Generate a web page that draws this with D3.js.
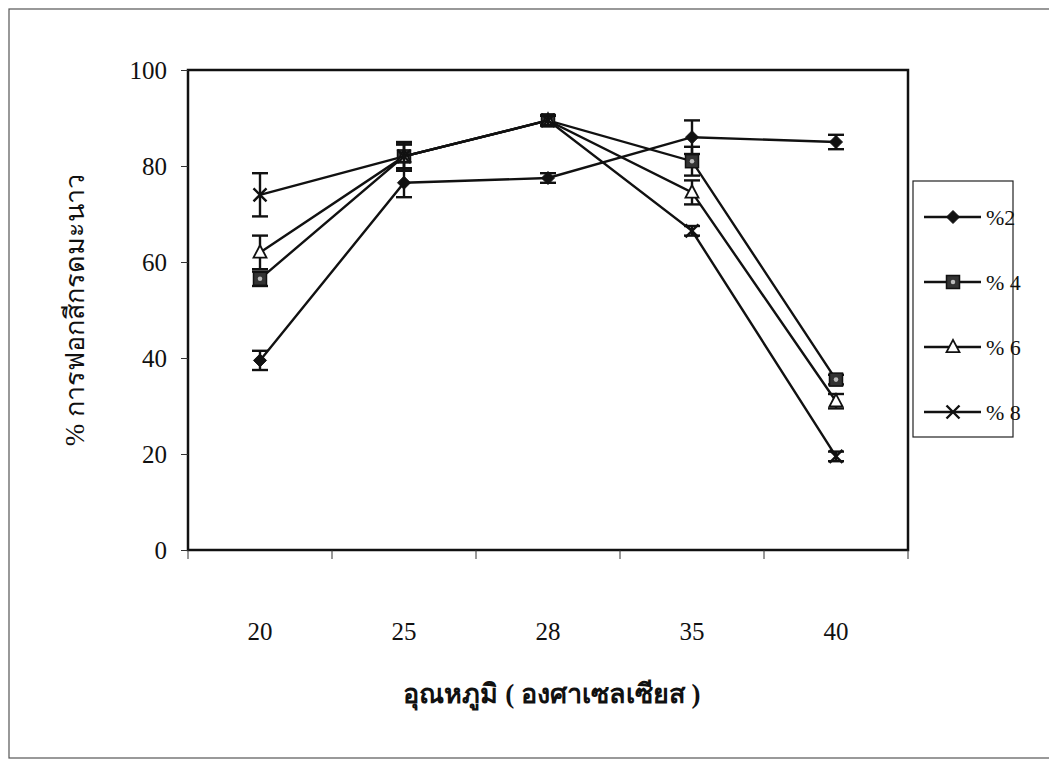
<!DOCTYPE html>
<html lang="th">
<head>
<meta charset="UTF-8">
<title>% การฟอกสีกรดมะนาว</title>
<style>
  body { margin: 0; background: #fff; }
  text { font-family: "Liberation Serif", "Times New Roman", serif; fill: #111; }
</style>
</head>
<body>
<div id="chart"></div>
<script src="https://d3js.org/d3.v7.min.js"></script>
<script>
const categories = ["20", "25", "28", "35", "40"];
const seriesNames = ["%2", "% 4", "% 6", "% 8"];
const markers = ["diamond", "square", "triangle", "cross"];
const values = [
  [39.5, 76.5, 77.5, 86, 85],
  [56.5, 82, 89.5, 81, 35.5],
  [62, 82, 89.5, 74.5, 31],
  [74, 82, 89.5, 66.5, 19.5]
];
const errors = [
  [2, 3, 1, 3.5, 1.5],
  [1.5, 3, 1, 3, 1],
  [3.5, 2.5, 1, 2.5, 1.5],
  [4.5, 2.5, 1, 1, 1]
];
const yTicks = [0, 20, 40, 60, 80, 100];

const W = 1049, H = 769;
const margin = { top: 70, left: 188, right: 141, bottom: 219 };
const width = W - margin.left - margin.right,
      height = H - margin.top - margin.bottom;

const svg = d3.select("#chart").append("svg")
    .attr("width", W)
    .attr("height", H);

// scanned page frame
svg.append("rect")
    .attr("x", 9).attr("y", 9)
    .attr("width", W).attr("height", 749)
    .attr("fill", "none")
    .attr("stroke", "#555")
    .attr("stroke-width", 1.2);

const g = svg.append("g")
    .attr("transform", `translate(${margin.left},${margin.top})`);

const x = d3.scaleBand().domain(categories).range([0, width]);
const y = d3.scaleLinear().domain([0, 100]).range([height, 0]);

// plot border
g.append("rect")
    .attr("width", width).attr("height", height)
    .attr("fill", "none")
    .attr("stroke", "#111")
    .attr("stroke-width", 2.5);

// axes
const xAxis = g.append("g")
    .attr("transform", `translate(0,${height})`)
    .call(d3.axisBottom(x).tickSize(0).tickFormat(d => d));
xAxis.select(".domain").remove();
xAxis.selectAll("text")
    .attr("dy", 0)
    .attr("y", 90)
    .attr("font-size", 25);
// category boundary ticks
g.selectAll(".xtick")
    .data(d3.range(categories.length + 1))
    .enter().append("line")
    .attr("x1", i => i * x.bandwidth())
    .attr("x2", i => i * x.bandwidth())
    .attr("y1", height)
    .attr("y2", height + 9)
    .attr("stroke", "#333")
    .attr("stroke-width", 1);

const yAxis = g.append("g")
    .call(d3.axisLeft(y).tickValues(yTicks).tickSize(7).tickPadding(14));
yAxis.select(".domain").remove();
yAxis.selectAll("line").attr("stroke", "#333");
yAxis.selectAll("text").attr("font-size", 25);

// series
const line = d3.line()
    .x((d, i) => x(categories[i]) + x.bandwidth() / 2)
    .y(d => y(d));

function drawMarker(sel, type, s) {
  if (type === "diamond") {
    sel.append("path").attr("d", `M0,${-s}L${s},0L0,${s}L${-s},0Z`)
      .attr("fill", "#111").attr("stroke", "#111");
  } else if (type === "square") {
    sel.append("rect").attr("x", -s).attr("y", -s)
      .attr("width", 2 * s).attr("height", 2 * s)
      .attr("fill", "#333").attr("stroke", "#111").attr("stroke-width", 1.5);
    sel.append("circle").attr("r", s * 0.35).attr("fill", "#bbb");
  } else if (type === "triangle") {
    sel.append("path").attr("d", `M0,${-s * 1.1}L${s},${s * 0.8}L${-s},${s * 0.8}Z`)
      .attr("fill", "#fff").attr("stroke", "#111").attr("stroke-width", 1.8);
  } else {
    sel.append("path").attr("d", `M${-s},${-s}L${s},${s}M${s},${-s}L${-s},${s}`)
      .attr("fill", "none").attr("stroke", "#111").attr("stroke-width", 2.4);
  }
}

values.forEach((vals, si) => {
  g.append("path")
      .datum(vals)
      .attr("fill", "none")
      .attr("stroke", "#111")
      .attr("stroke-width", 2.4)
      .attr("d", line);

  vals.forEach((v, i) => {
    const cx = x(categories[i]) + x.bandwidth() / 2;
    const e = errors[si][i];
    const eb = g.append("g").attr("stroke", "#111").attr("stroke-width", 2.4);
    eb.append("line").attr("x1", cx).attr("x2", cx).attr("y1", y(v - e)).attr("y2", y(v + e));
    eb.append("line").attr("x1", cx - 8).attr("x2", cx + 8).attr("y1", y(v - e)).attr("y2", y(v - e));
    eb.append("line").attr("x1", cx - 8).attr("x2", cx + 8).attr("y1", y(v + e)).attr("y2", y(v + e));
    const m = g.append("g").attr("transform", `translate(${cx},${y(v)})`);
    drawMarker(m, markers[si], 6.5);
  });
});

// axis titles
svg.append("text")
    .attr("x", margin.left + width / 2 + 4)
    .attr("y", 703)
    .attr("text-anchor", "middle")
    .attr("font-size", 27)
    .attr("font-weight", "bold")
    .text("อุณหภูมิ ( องศาเซลเซียส )");

svg.append("text")
    .attr("transform", "translate(84,310) rotate(-90)")
    .attr("text-anchor", "middle")
    .attr("font-size", 27)
    .text("% การฟอกสีกรดมะนาว");

// legend
const legend = svg.append("g").attr("transform", "translate(913,181)");
legend.append("rect")
    .attr("width", 100).attr("height", 256)
    .attr("fill", "#fff")
    .attr("stroke", "#222")
    .attr("stroke-width", 1.2);
seriesNames.forEach((name, i) => {
  const ly = 36 + i * 65;
  legend.append("line")
      .attr("x1", 11).attr("x2", 68).attr("y1", ly).attr("y2", ly)
      .attr("stroke", "#111").attr("stroke-width", 2.5);
  const m = legend.append("g").attr("transform", `translate(40,${ly})`);
  drawMarker(m, markers[i], 6.5);
  legend.append("text")
      .attr("x", 73).attr("y", ly)
      .attr("dy", "0.35em")
      .attr("font-size", 22)
      .text(name);
});
</script>
</body>
</html>
